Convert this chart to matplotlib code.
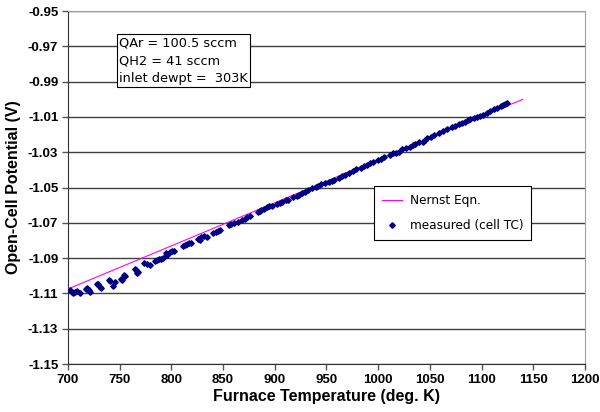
import numpy as np
import matplotlib
matplotlib.use('Agg')
from matplotlib import pyplot as plt

# Nernst equation line (end points)
nernst_T = [700, 1140]
nernst_V = [-1.1075, -1.0000]

# measured open-cell potential vs cell thermocouple temperature
meas_T = [
    702, 704, 705, 707, 709, 712, 717, 718, 720, 721,
    728, 729, 731, 732, 740, 741, 744, 745, 751, 752,
    754, 755, 765, 766, 767, 768, 774, 776, 779, 784,
    786, 788, 790, 792, 795, 796, 799, 801, 803, 811,
    813, 815, 817, 819, 826, 828, 829, 832, 834, 840,
    843, 845, 847, 856, 858, 861, 864, 868, 871, 873,
    876, 884, 886, 887, 890, 892, 894, 897, 902, 905,
    907, 911, 913, 918, 921, 923, 926, 929, 932, 936,
    940, 942, 945, 949, 952, 955, 957, 962, 965, 968,
    972, 976, 979, 983, 986, 989, 992, 995, 1000, 1003,
    1006, 1011, 1014, 1017, 1020, 1023, 1027, 1031, 1034, 1036,
    1039, 1043, 1045, 1047, 1051, 1054, 1059, 1063, 1067, 1071,
    1074, 1078, 1081, 1084, 1087, 1089, 1093, 1096, 1098, 1101,
    1105, 1108, 1112, 1115, 1119, 1121, 1123, 1125,
]
meas_V = [
    -1.1081, -1.1092, -1.1100, -1.1094, -1.1088, -1.1100, -1.1074, -1.1071, -1.1082, -1.1090,
    -1.1049, -1.1044, -1.1062, -1.1067, -1.1024, -1.1029, -1.1058, -1.1034, -1.1020, -1.1024,
    -1.0996, -1.1000, -1.0964, -1.0970, -1.0983, -1.0976, -1.0929, -1.0932, -1.0939, -1.0915,
    -1.0912, -1.0907, -1.0904, -1.0901, -1.0873, -1.0882, -1.0864, -1.0858, -1.0862, -1.0831,
    -1.0828, -1.0820, -1.0813, -1.0816, -1.0794, -1.0797, -1.0782, -1.0775, -1.0779, -1.0756,
    -1.0750, -1.0745, -1.0741, -1.0712, -1.0709, -1.0699, -1.0694, -1.0684, -1.0676, -1.0669,
    -1.0662, -1.0637, -1.0633, -1.0627, -1.0620, -1.0612, -1.0605, -1.0605, -1.0594, -1.0586,
    -1.0580, -1.0571, -1.0568, -1.0552, -1.0546, -1.0542, -1.0529, -1.0524, -1.0514, -1.0505,
    -1.0495, -1.0490, -1.0480, -1.0472, -1.0467, -1.0462, -1.0458, -1.0445, -1.0435, -1.0429,
    -1.0418, -1.0405, -1.0397, -1.0388, -1.0378, -1.0373, -1.0364, -1.0354, -1.0344, -1.0336,
    -1.0326, -1.0314, -1.0306, -1.0302, -1.0297, -1.0284, -1.0276, -1.0269, -1.0262, -1.0254,
    -1.0245, -1.0240, -1.0231, -1.0222, -1.0214, -1.0203, -1.0192, -1.0182, -1.0168, -1.0156,
    -1.0152, -1.0140, -1.0133, -1.0127, -1.0118, -1.0112, -1.0108, -1.0100, -1.0095, -1.0088,
    -1.0076, -1.0065, -1.0058, -1.0051, -1.0037, -1.0033, -1.0029, -1.0023,
]

x_ticks = [700, 750, 800, 850, 900, 950, 1000, 1050, 1100, 1150, 1200]
y_ticks = [-1.15, -1.13, -1.11, -1.09, -1.07, -1.05, -1.03, -1.01, -0.99, -0.97, -0.95]

note = 'QAr = 100.5 sccm\nQH2 = 41 sccm\ninlet dewpt =  303K'


fig = plt.figure(figsize=(6.0, 4.12), dpi=100)
ax = fig.add_axes([0.1133, 0.1165, 0.8617, 0.8568])

ax.set_xlim(700, 1200)
ax.set_ylim(-1.15, -0.95)
ax.set_xticks(x_ticks)
ax.set_yticks(y_ticks)
ax.set_yticklabels(['%.2f' % v for v in y_ticks])

ax.grid(axis='y', color='#404040', linewidth=1.0)
ax.set_axisbelow(True)

ax.plot(nernst_T, nernst_V, color='#ff00ff', linewidth=0.8, label='Nernst Eqn.', zorder=3)
ax.plot(meas_T, meas_V, linestyle='none', marker='D', markersize=2.8,
        color='#000080', label='measured (cell TC)', zorder=4)

for side in ('top', 'right'):
    ax.spines[side].set_color('#a0a0a0')
for side in ('left', 'bottom'):
    ax.spines[side].set_color('#333333')
ax.tick_params(direction='out', length=4, width=1, color='#555555', pad=3)
for lab in ax.get_xticklabels() + ax.get_yticklabels():
    lab.set_family('Liberation Sans')
    lab.set_weight('bold')
    lab.set_size(9.5)

ax.set_xlabel('Furnace Temperature (deg. K)', family='Liberation Sans',
              weight='bold', size=11.5, labelpad=2)
ax.set_ylabel('Open-Cell Potential (V)', family='Liberation Sans',
              weight='bold', size=11.5, labelpad=5)

ax.text(0.099, 0.927, note, transform=ax.transAxes, ha='left', va='top',
        family='DejaVu Sans', size=9.3, linespacing=1.45, zorder=5,
        bbox=dict(boxstyle='square,pad=0.2', facecolor='white',
                  edgecolor='black', linewidth=0.8))

leg = ax.legend(loc='upper left', bbox_to_anchor=(0.592, 0.504), borderaxespad=0,
                frameon=True, fancybox=False, shadow=False, framealpha=1,
                prop={'family': 'DejaVu Sans', 'size': 8.7},
                handlelength=1.7, handletextpad=0.6, labelspacing=1.0,
                borderpad=0.65, markerscale=1.0)
leg.get_frame().set_edgecolor('black')
leg.get_frame().set_linewidth(0.8)

plt.savefig('out.png', dpi=100)
